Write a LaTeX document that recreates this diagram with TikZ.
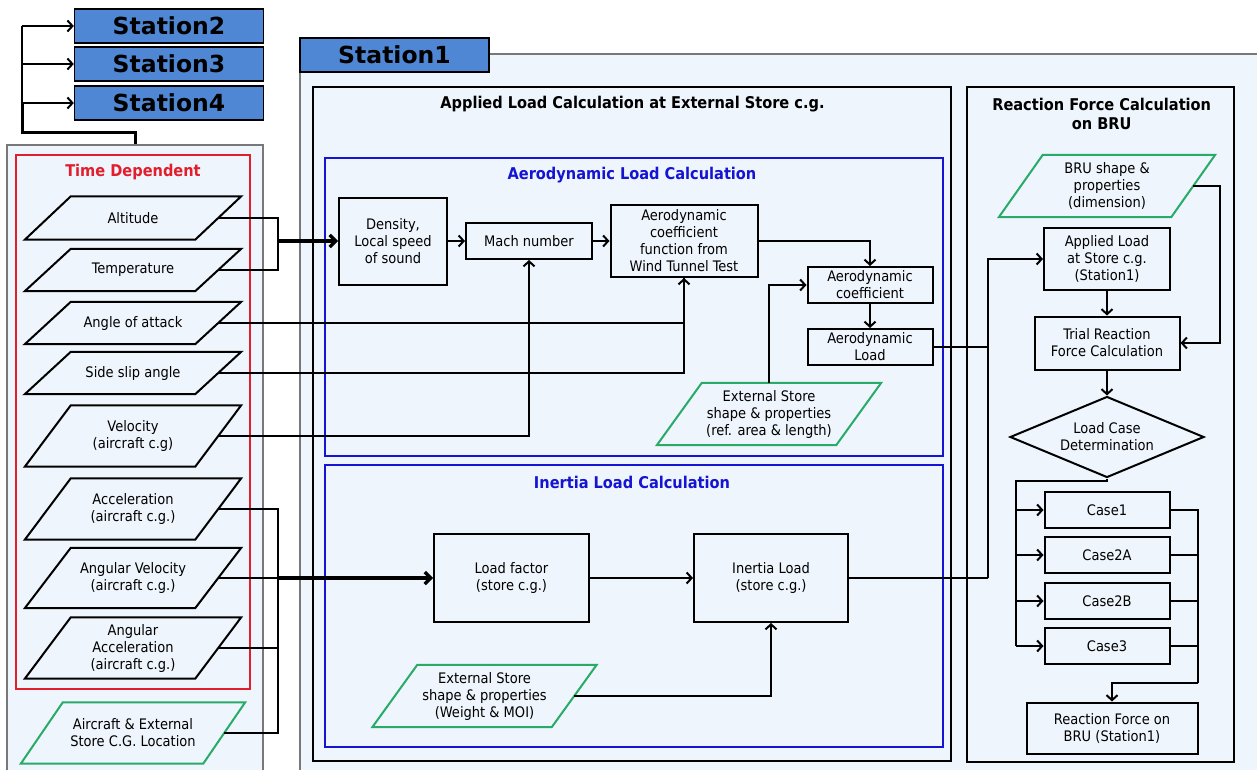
\documentclass[tikz,border=0pt]{standalone}
\usepackage{fontspec}
\setmainfont{DejaVuSansCondensed}[Extension=.ttf, BoldFont=DejaVuSansCondensed-Bold]
\newfontfamily\stationfont{DejaVu Sans}
\usetikzlibrary{arrows.meta, shapes.geometric}

\definecolor{stblue}{RGB}{79,135,212}
\definecolor{panelbg}{RGB}{239,245,252}
\definecolor{panelline}{RGB}{120,120,120}
\definecolor{aeroblue}{RGB}{20,20,210}
\definecolor{tdred}{RGB}{226,30,45}
\definecolor{dgreen}{RGB}{40,170,105}

\newcommand{\bodysize}{\fontsize{14.5}{17}\selectfont}
\newcommand{\titlesize}{\fontsize{16.2}{19}\selectfont\bfseries}

\tikzset{
  stationbox/.style={draw=black, fill=stblue, line width=1.4pt, minimum width=189pt, minimum height=34pt, inner sep=0pt, font=\stationfont\bfseries\fontsize{23.5}{26}\selectfont},
  procbox/.style={draw=black, line width=2pt, align=center, inner sep=0pt, font=\bodysize},
  datanode/.style={align=center, inner sep=0pt, font=\bodysize},
  titlenode/.style={align=center, inner sep=0pt, font=\titlesize},
  link/.style={line width=2pt},
  flow/.style={line width=2pt, -{Straight Barb[length=5pt,width=11pt]}},
  bigflow/.style={line width=3.2pt, -{Straight Barb[length=6pt,width=12pt]}}
}

% slanted frame round a data node
\newcommand{\slantframe}[3][black]{%
  \draw[#1, line width=2pt] ([xshift=-#3]#2.south west) -- ([xshift=#3]#2.north west)
    -- ([xshift=#3]#2.north east) -- ([xshift=-#3]#2.south east) -- cycle;}

\begin{document}
\begin{tikzpicture}[x=1pt, y=-1pt]
    \useasboundingbox (0,0) rectangle (1257,770);

    % panels
    \node[draw=panelline, fill=panelbg, line width=1.2pt, minimum width=256pt, minimum height=630pt, inner sep=0pt] (inpanel) at (135,460) {};
    \draw[panelline, fill=panelbg, line width=1.2pt] (300,54) rectangle (1265,775);
    \draw[tdred, line width=2pt] (16,155) rectangle (250,689);
    \draw[black, line width=2pt] (313,87) rectangle (951,761);
    \draw[aeroblue, line width=2pt] (325,158) rectangle (943,456);
    \draw[aeroblue, line width=2pt] (325,465) rectangle (943,747);
    \draw[black, line width=2pt] (967,87) rectangle (1234,762);

    % stations
    \node[stationbox] (st2) at (169,26) {Station2};
    \node[stationbox] (st3) at (169,64) {Station3};
    \node[stationbox] (st4) at (169,103) {Station4};
    \node[stationbox] (st1) at (394.5,55) {Station1};

    % titles
    \node[titlenode, text=tdred] (tdtitle) at (133,172) {Time Dependent};
    \node[titlenode] (apltitle) at (632.5,104) {Applied Load Calculation at External Store c.g.};
    \node[titlenode, text=aeroblue] (aerotitle) at (632,175) {Aerodynamic Load Calculation};
    \node[titlenode, text=aeroblue] (inertitle) at (632,482) {Inertia Load Calculation};
    \node[titlenode] (rftitle) at (1101.7,113.5) {Reaction Force Calculation\\on BRU};

    % time dependent inputs
    \node[datanode, minimum width=170pt, minimum height=43pt] (alt) at (133,218) {Altitude};
    \node[datanode, minimum width=170pt, minimum height=42pt] (temp) at (133,270) {Temperature};
    \node[datanode, minimum width=170pt, minimum height=42pt] (aoa) at (133,323) {Angle of attack};
    \node[datanode, minimum width=170pt, minimum height=42pt] (ssa) at (133,373) {Side slip angle};
    \node[datanode, minimum width=170pt, minimum height=61pt] (vel) at (133,436) {Velocity\\(aircraft c.g)};
    \node[datanode, minimum width=170pt, minimum height=61pt] (acc) at (133,509) {Acceleration\\(aircraft c.g.)};
    \node[datanode, minimum width=170pt, minimum height=60pt] (angvel) at (133,578) {Angular Velocity\\(aircraft c.g.)};
    \node[datanode, minimum width=170pt, minimum height=61pt] (angacc) at (133,648) {Angular\\Acceleration\\(aircraft c.g.)};
    \node[datanode, minimum width=182pt, minimum height=61pt] (cgloc) at (133,733) {Aircraft \& External\\Store C.G. Location};
    \foreach \n in {alt,temp,aoa,ssa,vel,acc,angvel,angacc}
        \slantframe{\n}{23pt};
    \slantframe[dgreen]{cgloc}{21pt}

    % aerodynamic load
    \node[procbox, minimum width=108pt, minimum height=87pt] (dens) at (393,241) {Density,\\Local speed\\of sound};
    \node[procbox, minimum width=126pt, minimum height=36pt] (mach) at (529,241) {Mach number};
    \node[procbox, minimum width=147pt, minimum height=72pt] (func) at (684,241) {Aerodynamic\\coefficient\\function from\\Wind Tunnel Test};
    \node[procbox, minimum width=125pt, minimum height=36pt] (acoef) at (870,285) {Aerodynamic\\coefficient};
    \node[procbox, minimum width=125pt, minimum height=36pt] (aload) at (870,347) {Aerodynamic\\Load};
    \node[datanode, minimum width=179pt, minimum height=62pt] (ext1) at (769,414) {External Store\\shape \& properties\\(ref. area \& length)};
    \slantframe[dgreen]{ext1}{22.5pt}

    % inertia load
    \node[procbox, minimum width=155pt, minimum height=88pt] (lf) at (511.5,578) {Load factor\\(store c.g.)};
    \node[procbox, minimum width=154pt, minimum height=88pt] (il) at (771,578) {Inertia Load\\(store c.g.)};
    \node[datanode, minimum width=179pt, minimum height=62pt] (ext2) at (484.5,696) {External Store\\shape \& properties\\(Weight \& MOI)};
    \slantframe[dgreen]{ext2}{22.5pt}

    % reaction force
    \node[datanode, minimum width=172pt, minimum height=62pt] (bru) at (1107,186) {BRU shape \&\\properties\\(dimension)};
    \slantframe[dgreen]{bru}{22pt}
    \node[procbox, minimum width=126pt, minimum height=62pt] (apl) at (1107,259) {Applied Load\\at Store c.g.\\(Station1)};
    \node[procbox, minimum width=145pt, minimum height=53pt] (trial) at (1107,343) {Trial Reaction\\Force Calculation};
    \node[procbox, diamond, aspect=2.4, minimum width=194pt, minimum height=81pt] (dia) at (1107,437) {Load Case\\Determination};
    \node[procbox, minimum width=125pt, minimum height=36pt] (c1) at (1107,510) {Case1};
    \node[procbox, minimum width=125pt, minimum height=36pt] (c2) at (1107,555) {Case2A};
    \node[procbox, minimum width=125pt, minimum height=36pt] (c3) at (1107,601) {Case2B};
    \node[procbox, minimum width=125pt, minimum height=36pt] (c4) at (1107,646) {Case3};
    \node[procbox, minimum width=171pt, minimum height=51pt] (fin) at (1112,728) {Reaction Force on\\BRU (Station1)};

    % station links
    \coordinate (split) at (22,133);
    \draw[line width=3pt] (inpanel.north) |- (split) -- (split |- st4.west);
    \draw[link] (split |- st4.west) -- (split |- st2.west);
    \foreach \s in {st2,st3,st4}
        \draw[flow] (split |- \s.west) -- (\s.west);

    % inputs to aerodynamic load
    \coordinate (tbus) at (278,241);
    \draw[link] (alt.east) -| (tbus) |- (temp.east);
    \draw[bigflow] (tbus) -- (dens.west);
    \draw[flow] (dens.east) -- (mach.west);
    \draw[flow] (mach.east) -- (func.west);
    \draw[link] (aoa.east) -| (func.south);
    \draw[flow] (ssa.east) -| (func.south);
    \draw[flow] (vel.east) -| (mach.south);
    \draw[flow] (func.east) -| (acoef.north);
    \draw[flow] (ext1.north) |- (acoef.west);
    \draw[flow] (acoef) -- (aload);

    % inputs to inertia load
    \coordinate (ibus) at (278,578);
    \draw[link] (acc.east) -| (ibus) |- (cgloc.east);
    \draw[link] (angacc.east) -- (angacc.east -| ibus);
    \draw[link] (angvel.east) -- (ibus);
    \draw[bigflow] (ibus) -- (lf.west);
    \draw[flow] (lf) -- (il);
    \draw[flow] (ext2.east) -| (il.south);

    % loads to reaction force
    \coordinate (rbus) at (988,578);
    \draw[link] (il.east) -- (rbus);
    \draw[flow] (rbus) |- (apl.west);
    \draw[link] (aload.east) -- (aload.east -| rbus);
    \coordinate (brubus) at (1220,260);
    \draw[flow] (bru.east) -| (brubus) |- (trial.east);
    \draw[flow] (apl) -- (trial);
    \draw[flow] (trial) -- (dia);
    \coordinate (cbus) at (1016,481);
    \draw[link] (dia.south) |- (cbus) -- (cbus |- c4.west);
    \foreach \c in {c1,c2,c3,c4}
        \draw[flow] (cbus |- \c.west) -- (\c.west);
    \coordinate (obus) at (1198,683);
    \foreach \c in {c1,c2,c3,c4}
        \draw[link] (\c.east) -| (obus);
    \draw[flow] (obus) -| (fin.north);
\end{tikzpicture}
\end{document}
